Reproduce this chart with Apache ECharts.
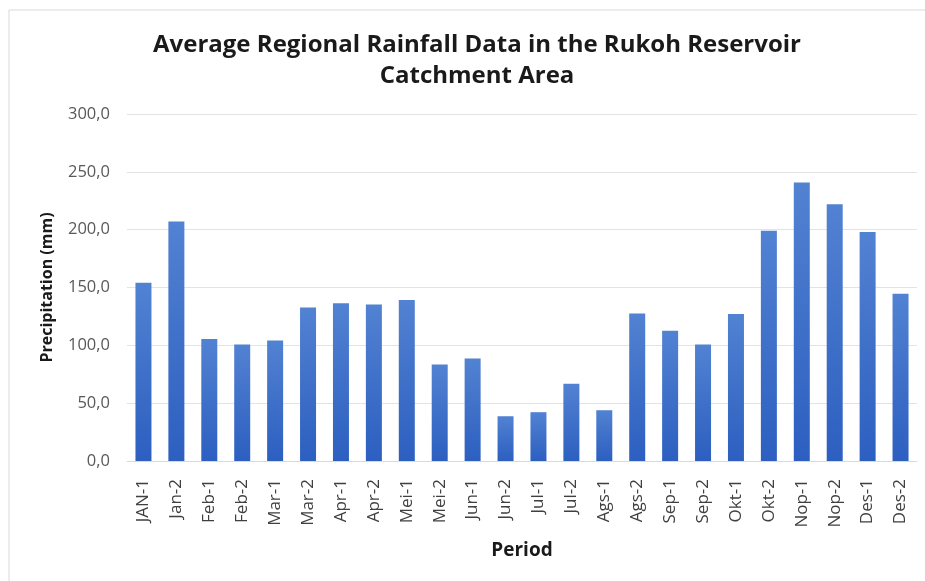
<!DOCTYPE html>
<html>
<head>
<meta charset="utf-8">
<script src="https://cdn.jsdelivr.net/npm/echarts@6/dist/echarts.min.js"></script>
<style>
  html, body { margin: 0; padding: 0; background: #fff; }
  #chart { width: 925px; height: 581px; }
</style>
</head>
<body>
<div id="chart"></div>
<script>
// Half-monthly periods
const periods = ['JAN-1','Jan-2','Feb-1','Feb-2','Mar-1','Mar-2','Apr-1','Apr-2','Mei-1','Mei-2',
  'Jun-1','Jun-2','Jul-1','Jul-2','Ags-1','Ags-2','Sep-1','Sep-2','Okt-1','Okt-2',
  'Nop-1','Nop-2','Des-1','Des-2'];
// Average regional rainfall (mm)
const rainfall = [154.0, 207.0, 105.5, 100.8, 104.2, 132.8, 136.3, 135.4, 139.1, 83.4,
  88.6, 38.7, 42.2, 66.7, 43.9, 127.6, 112.6, 100.8, 127.0, 199.1,
  240.7, 222.0, 198.0, 144.6];
// Y axis range
const yMin = 0, yMax = 300, yStep = 50;

const chart = echarts.init(document.getElementById('chart'));
const font = '"Open Sans", "Noto Sans", sans-serif';

chart.setOption({
  backgroundColor: '#ffffff',
  animation: false,
  graphic: [{
    type: 'rect',
    shape: { x: 9, y: 10, width: 930, height: 580 },
    style: { fill: 'none', stroke: '#d9d9d9', lineWidth: 1 },
    silent: true
  }],
  title: {
    text: 'Average Regional Rainfall Data in the Rukoh Reservoir\nCatchment Area',
    left: 472,
    top: 25,
    textAlign: 'center',
    textStyle: {
      fontFamily: font,
      fontWeight: 'bold',
      fontSize: 24,
      color: '#1a1a1a',
      lineHeight: 31
    }
  },
  grid: { left: 127, right: 8, top: 114, bottom: 120 },
  xAxis: {
    type: 'category',
    data: periods,
    name: 'Period',
    nameLocation: 'middle',
    nameGap: 80,
    nameTextStyle: { fontFamily: font, fontWeight: 'bold', fontSize: 19, color: '#1a1a1a' },
    axisLine: { lineStyle: { color: '#d9d9d9' } },
    axisTick: { show: false },
    axisLabel: {
      rotate: 90,
      interval: 0,
      margin: 18,
      fontFamily: font,
      fontSize: 17,
      color: '#404040'
    }
  },
  yAxis: {
    type: 'value',
    min: yMin,
    max: yMax,
    interval: yStep,
    name: 'Precipitation (mm)',
    nameLocation: 'middle',
    nameGap: 72,
    nameTextStyle: { fontFamily: font, fontWeight: 'bold', fontSize: 16, color: '#1a1a1a' },
    axisLine: { show: false },
    axisTick: { show: false },
    axisLabel: {
      margin: 17,
      fontFamily: font,
      fontSize: 16.5,
      color: '#595959',
      formatter: v => v.toFixed(1).replace('.', ',')
    },
    splitLine: { lineStyle: { color: '#e3e3e3', width: 1 } }
  },
  series: [{
    type: 'bar',
    data: rainfall,
    barWidth: 16,
    itemStyle: {
      color: new echarts.graphic.LinearGradient(0, 0, 0, 1, [
        { offset: 0, color: '#5282d2' },
        { offset: 1, color: '#2c5fc0' }
      ])
    }
  }]
});
</script>
</body>
</html>
